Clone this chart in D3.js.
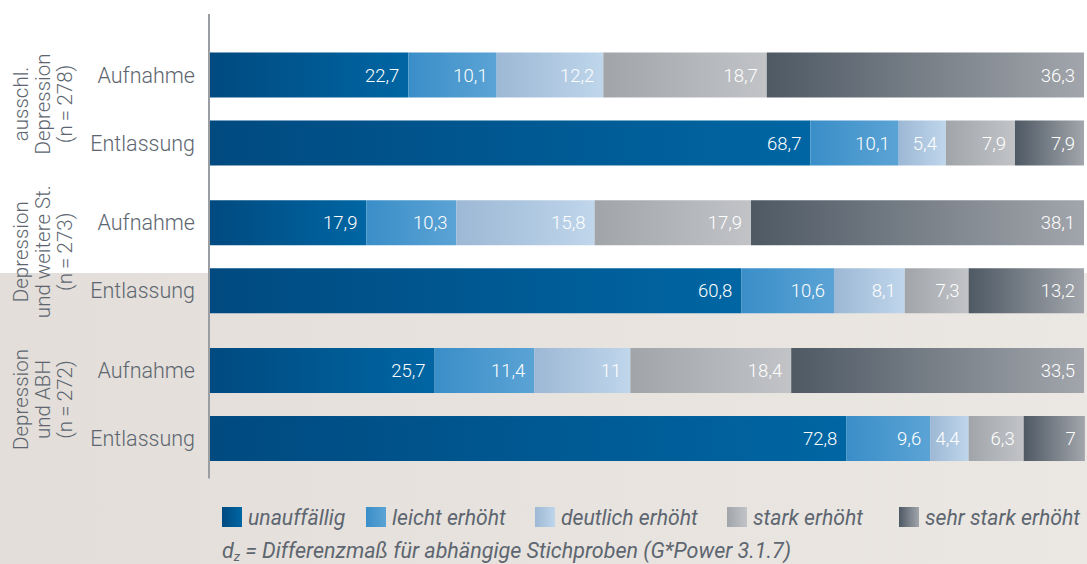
<!DOCTYPE html>
<html>
<head>
<meta charset="utf-8">
<script src="https://cdn.jsdelivr.net/npm/d3@7"></script>
<style>
  html, body { margin: 0; padding: 0; background: #fff; }
  svg { display: block; }
</style>
</head>
<body>
<svg id="chart" width="1087" height="564"></svg>
<script>
// Severity categories (stack order, left to right)
const categories = ["unauffällig", "leicht erhöht", "deutlich erhöht", "stark erhöht", "sehr stark erhöht"];

// Patient groups and their rotated label lines
const groups = ["g1", "g2", "g3"];
const groupLabels = [
  ["ausschl.", "Depression", "(n\u2009=\u2009278)"],
  ["Depression", "und weitere St.", "(n\u2009=\u2009273)"],
  ["Depression", "und ABH", "(n\u2009=\u2009272)"]
];
const timepoints = ["Aufnahme", "Entlassung"];

// Percentages per row: g1 Aufnahme, g1 Entlassung, g2 Aufnahme, g2 Entlassung, g3 Aufnahme, g3 Entlassung
const unauffaellig  = [22.7, 68.7, 17.9, 60.8, 25.7, 72.8];
const leichtErhoeht = [10.1, 10.1, 10.3, 10.6, 11.4, 9.6];
const deutlichErhoeht = [12.2, 5.4, 15.8, 8.1, 11, 4.4];
const starkErhoeht  = [18.7, 7.9, 17.9, 7.3, 18.4, 6.3];
const sehrStarkErhoeht = [36.3, 7.9, 38.1, 13.2, 33.5, 7];

const footnote = " = Differenzmaß für abhängige Stichproben (G*Power 3.1.7)";

const seriesValues = [unauffaellig, leichtErhoeht, deutlichErhoeht, starkErhoeht, sehrStarkErhoeht];

// Gradient stops for each category (left -> right)
const gradientStops = [
  ["#004a80", "#0066a3"],
  ["#3a8ec8", "#5ba3d5"],
  ["#9db8d5", "#bfd6eb"],
  ["#a1a5aa", "#c1c3c7"],
  ["#4e5964", "#a2a6ac"]
];

const rows = [];
groups.forEach((g, gi) => timepoints.forEach((t, ti) => {
  const idx = gi * 2 + ti;
  const rec = { group: g, time: t };
  categories.forEach((c, ci) => rec[c] = seriesValues[ci][idx]);
  rows.push(rec);
}));

const svg = d3.select("#chart");
const W = 1087, H = 564;
const textGray = "#5d6670";

// Background: white upper part, warm beige lower part
const defs = svg.append("defs");
const bgGrad = defs.append("linearGradient").attr("id", "bg").attr("x1", 0).attr("x2", 1).attr("y1", 0).attr("y2", 0);
bgGrad.append("stop").attr("offset", 0).attr("stop-color", "#e3ded9");
bgGrad.append("stop").attr("offset", 1).attr("stop-color", "#ebe7e3");
svg.append("rect").attr("x", 0).attr("y", 0).attr("width", W).attr("height", H).attr("fill", "#fff");
svg.append("rect").attr("x", 0).attr("y", 273).attr("width", W).attr("height", H - 273).attr("fill", "url(#bg)");

categories.forEach((c, i) => {
  const lg = defs.append("linearGradient").attr("id", "grad" + i)
    .attr("x1", 0).attr("x2", 1).attr("y1", 0).attr("y2", 0);
  lg.append("stop").attr("offset", 0).attr("stop-color", gradientStops[i][0]);
  lg.append("stop").attr("offset", 1).attr("stop-color", gradientStops[i][1]);
});

// Scales
const x = d3.scaleLinear().domain([0, 100]).range([210, 1084]);
const yGroup = d3.scaleBand().domain(groups).range([35.1, 478.4]).paddingInner(0).paddingOuter(0);
const yRow = d3.scaleBand().domain(timepoints)
  .range([yGroup.bandwidth() / 2 - 56.5, yGroup.bandwidth() / 2 + 56.5])
  .paddingInner(1 - 45 / 68).paddingOuter(0);

const stack = d3.stack().keys(categories);
const stacked = stack(rows);

const rowY = d => yGroup(d.data.group) + yRow(d.data.time);

// Bars
const layers = svg.append("g").selectAll("g").data(stacked).join("g")
  .attr("fill", (d, i) => `url(#grad${i})`);

layers.selectAll("rect").data(d => d).join("rect")
  .attr("x", d => x(d[0]))
  .attr("y", d => rowY(d))
  .attr("width", d => x(d[1]) - x(d[0]))
  .attr("height", yRow.bandwidth());

// Value labels, right-aligned inside each segment
const fmt = v => String(v).replace(".", ",");
layers.selectAll("text").data(d => d.map(s => ({ s, key: d.key }))).join("text")
  .attr("x", d => x(d.s[1]) - 9)
  .attr("y", d => rowY(d.s) + yRow.bandwidth() / 2)
  .attr("dy", "0.36em")
  .attr("text-anchor", "end")
  .attr("fill", "#fff")
  .attr("font-family", "Roboto, sans-serif")
  .attr("font-weight", 300)
  .attr("font-size", 18.5)
  .text(d => fmt(d.s.data[d.key]));

// Vertical axis line
svg.append("line")
  .attr("x1", 209).attr("x2", 209)
  .attr("y1", 14).attr("y2", yGroup.range()[1])
  .attr("stroke", "#9a9da1").attr("stroke-width", 2);

// Row labels
svg.append("g").selectAll("text").data(rows).join("text")
  .attr("x", 195)
  .attr("y", d => yGroup(d.group) + yRow(d.time) + yRow.bandwidth() / 2)
  .attr("dy", "0.36em")
  .attr("text-anchor", "end")
  .attr("fill", textGray)
  .attr("font-family", "Roboto, sans-serif")
  .attr("font-weight", 300)
  .attr("font-size", 21.5)
  .text(d => d.time);

// Rotated group labels
const gl = svg.append("g").selectAll("text").data(groups).join("text")
  .attr("transform", d => `translate(43,${yGroup(d) + yGroup.bandwidth() / 2 - 5}) rotate(-90)`)
  .attr("text-anchor", "middle")
  .attr("fill", textGray)
  .attr("font-family", "Roboto, sans-serif")
  .attr("font-weight", 300)
  .attr("font-size", 20.5);
gl.selectAll("tspan").data((d, i) => groupLabels[i]).join("tspan")
  .attr("x", 0)
  .attr("y", (d, i) => (i - 1) * 22)
  .attr("dy", "0.36em")
  .text(d => d);

// Legend
const legendX = [222, 366, 535, 727, 899];
const legend = svg.append("g").selectAll("g").data(categories).join("g")
  .attr("transform", (d, i) => `translate(${legendX[i]},507)`);
legend.append("rect").attr("width", 20).attr("height", 20)
  .attr("fill", (d, i) => `url(#grad${i})`);
legend.append("text")
  .attr("x", 26).attr("y", 10).attr("dy", "0.36em")
  .attr("fill", textGray)
  .attr("font-family", "Roboto, sans-serif")
  .attr("font-style", "italic")
  .attr("font-weight", 400)
  .attr("font-size", 21.2)
  .text(d => d);

// Footnote
const fn = svg.append("text")
  .attr("x", 222).attr("y", 558)
  .attr("fill", textGray)
  .attr("font-family", "Roboto, sans-serif")
  .attr("font-style", "italic")
  .attr("font-weight", 400)
  .attr("font-size", 21.5);
fn.append("tspan").text("d");
fn.append("tspan").attr("font-size", 13).attr("dy", 3).text("z");
fn.append("tspan").attr("dy", -3).text(footnote);
</script>
</body>
</html>
